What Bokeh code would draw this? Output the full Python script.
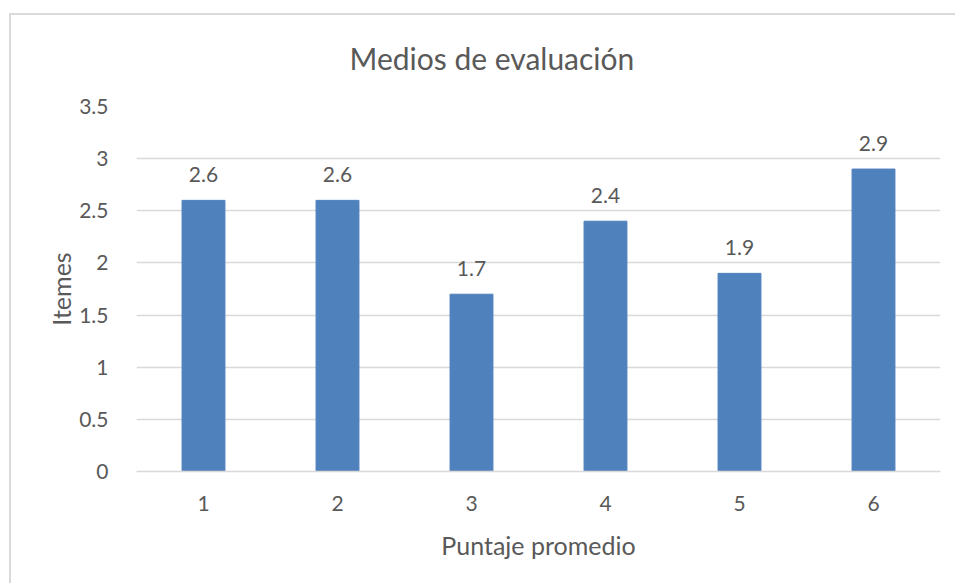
from bokeh.plotting import figure
from bokeh.models import Range1d, ColumnDataSource, LabelSet, FixedTicker, NumeralTickFormatter
from bokeh.core.properties import value
from bokeh.embed import file_html
from bokeh.resources import INLINE

# Average score per group and the item counts
categories = ["1", "2", "3", "4", "5", "6"]
values = [2.6, 2.6, 1.7, 2.4, 1.9, 2.9]
y_ticks = [0, 0.5, 1, 1.5, 2, 2.5, 3, 3.5]

title_text = "Medios de evaluación"
x_title = "Puntaje promedio"
y_title = "Itemes"

FONT = "Lato"
TEXT_COLOR = "#595959"
GRID_COLOR = "#d9d9d9"
BAR_COLOR = "#4F81BD"

source = ColumnDataSource(data=dict(
    cat=categories,
    val=values,
    lbl=[f"{v:g}" for v in values],
))

p = figure(
    width=955, height=583,
    x_range=categories, y_range=Range1d(0, 3.5),
    output_backend="svg", toolbar_location=None,
    min_border_left=136, min_border_right=15,
    min_border_top=106, min_border_bottom=112,
)
# thin frame lines of the chart box (left and top), painted behind the canvas
p.styles = {
    "background-color": "white",
    "background-image": f"linear-gradient({GRID_COLOR}, {GRID_COLOR}), "
                        f"linear-gradient({GRID_COLOR}, {GRID_COLOR})",
    "background-size": "calc(100% - 9px) 2px, 2px calc(100% - 13px)",
    "background-position": "9px 13px, 9px 13px",
    "background-repeat": "no-repeat",
}
p.outline_line_color = None
p.background_fill_color = "white"
p.border_fill_color = None

# chart title, centred over the whole chart box
p.title.text = title_text
p.title.align = "left"
p.title.offset = 213
p.title.text_font = FONT
p.title.text_font_size = "30px"
p.title.text_font_style = "normal"
p.title.text_color = TEXT_COLOR
p.title.standoff = 62

p.vbar(x="cat", top="val", width=0.32, color=BAR_COLOR, source=source)

labels = LabelSet(
    x="cat", y="val", text="lbl", source=source,
    text_align="center", text_baseline="alphabetic", y_offset=18,
    text_font=value(FONT), text_font_size="21px", text_color=TEXT_COLOR,
)
p.add_layout(labels)

# grid
p.xgrid.grid_line_color = None
p.ygrid.grid_line_color = GRID_COLOR
p.ygrid.grid_line_width = 1.3
p.ygrid.ticker = FixedTicker(ticks=y_ticks)

# y axis
p.yaxis.ticker = FixedTicker(ticks=y_ticks)
p.yaxis.formatter = NumeralTickFormatter(format="0.[0]")
p.yaxis.axis_line_color = None
p.yaxis.major_tick_line_color = None
p.yaxis.minor_tick_line_color = None
p.yaxis.major_label_standoff = 22
p.yaxis.major_label_text_font = FONT
p.yaxis.major_label_text_font_size = "21px"
p.yaxis.major_label_text_color = TEXT_COLOR
p.yaxis.axis_label = y_title
p.yaxis.axis_label_standoff = 0
p.yaxis.axis_label_text_font = FONT
p.yaxis.axis_label_text_font_size = "25px"
p.yaxis.axis_label_text_font_style = "normal"
p.yaxis.axis_label_text_color = TEXT_COLOR

# x axis
p.xaxis.axis_line_color = GRID_COLOR
p.xaxis.axis_line_width = 1.5
p.xaxis.major_tick_line_color = None
p.xaxis.minor_tick_line_color = None
p.xaxis.major_label_standoff = 18
p.xaxis.major_label_text_font = FONT
p.xaxis.major_label_text_font_size = "21px"
p.xaxis.major_label_text_color = TEXT_COLOR
p.xaxis.axis_label = x_title
p.xaxis.axis_label_standoff = 16
p.xaxis.axis_label_text_font = FONT
p.xaxis.axis_label_text_font_size = "25px"
p.xaxis.axis_label_text_font_style = "normal"
p.xaxis.axis_label_text_color = TEXT_COLOR

open("out.html", "w").write(file_html(p, INLINE))
